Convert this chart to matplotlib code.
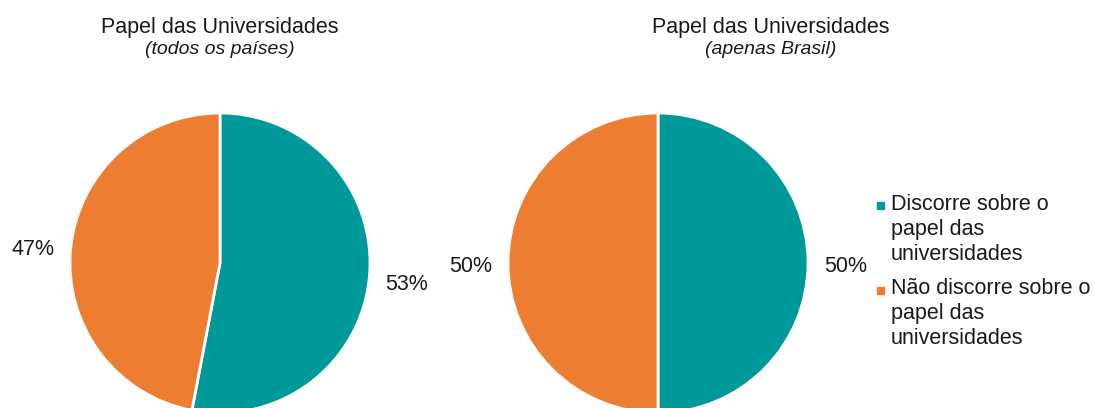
import matplotlib.pyplot as plt
from matplotlib.patches import Rectangle

plt.rcParams['font.family'] = ['Liberation Sans', 'DejaVu Sans']

categories = ['Discorre sobre o\npapel das\nuniversidades',
              'Não discorre sobre o\npapel das\nuniversidades']
todos_paises = [53, 47]
apenas_brasil = [50, 50]
subtitles = ['(todos os países)', '(apenas Brasil)']
colors = ['#009999', '#ED7D31']

W, H = 1094, 408
fig = plt.figure(figsize=(W / 100, H / 100), dpi=100)


def px_axes(cx, cy, r):
    # axes box in pixel coords (from top-left) around a pie of radius r
    return fig.add_axes([(cx - r) / W, (H - cy - r) / H, 2 * r / W, 2 * r / H])


for values, sub, cx, tx in [(todos_paises, subtitles[0], 220, 220),
                            (apenas_brasil, subtitles[1], 658, 771)]:
    ax = px_axes(cx, 263, 150)
    wedges, _, autotexts = ax.pie(values, colors=colors, startangle=90, counterclock=False,
                                  autopct='%1.0f%%', pctdistance=1.25, radius=1,
                                  wedgeprops={'edgecolor': 'white', 'linewidth': 2},
                                  textprops={'fontsize': 15.5, 'color': '#1a1a1a'})
    for t in autotexts:
        x, y = t.get_position()
        t.set_position((x, y - 0.025))
    ax.set_xlim(-1, 1)
    ax.set_ylim(-1, 1)
    ax.set_axis_off()
    for p in wedges:
        p.set_clip_on(False)
    fig.text(tx / W, 1 - 27 / H, 'Papel das Universidades', ha='center', va='center',
             fontsize=15.5, color='#1a1a1a')
    fig.text(tx / W, 1 - 50 / H, sub, ha='center', va='center',
             fontsize=14, style='italic', color='#1a1a1a')

# legend: square marker aligned with the first line of each label
for i, (lab, c) in enumerate(zip(categories, colors)):
    y0 = 205.5 + i * 85
    fig.patches.append(Rectangle((877 / W, 1 - (y0 + 3.5) / H), 7 / W, 7 / H,
                                 transform=fig.transFigure, color=c))
    fig.text(891 / W, 1 - (y0 - 12) / H, lab, ha='left', va='top',
             fontsize=15.5, color='#1a1a1a', linespacing=1.25)

fig.savefig('out.png', dpi=100)
